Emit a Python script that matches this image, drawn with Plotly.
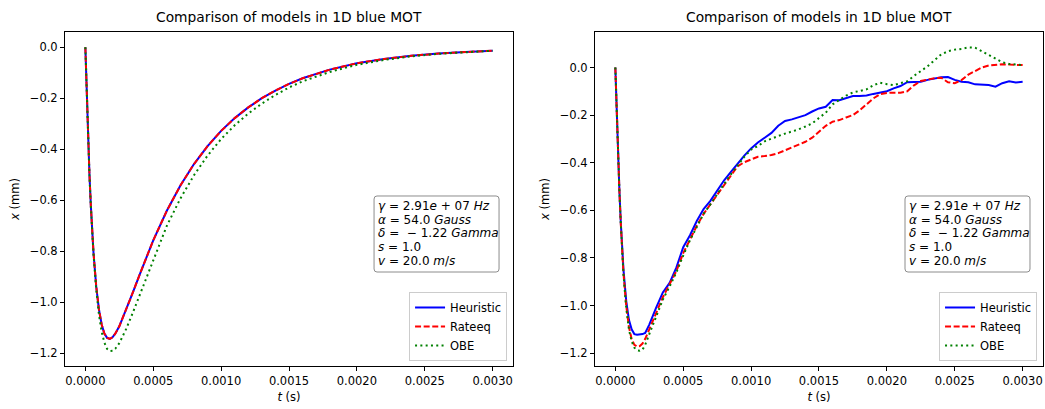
import plotly.graph_objects as go

# ---------------- data ----------------
t_left = [0, 1e-5, 2e-5, 3e-5, 4e-5, 5e-5, 6e-5, 8e-5, 1e-4, 1.2e-4, 1.4e-4, 1.6e-4,
          1.8e-4, 2e-4, 2.2e-4, 2.5e-4, 3e-4, 3.5e-4, 4e-4, 5e-4, 6e-4, 7e-4, 8e-4,
          9e-4, 1.0e-3, 1.1e-3, 1.2e-3, 1.3e-3, 1.4e-3, 1.5e-3, 1.6e-3, 1.8e-3,
          2.0e-3, 2.2e-3, 2.4e-3, 2.6e-3, 2.8e-3, 3.0e-3]
heur_left = [0, -0.192, -0.357, -0.498, -0.618, -0.720, -0.806, -0.938, -1.028, -1.087,
             -1.122, -1.139, -1.143, -1.137, -1.123, -1.094, -1.031, -0.961, -0.891,
             -0.757, -0.641, -0.542, -0.458, -0.388, -0.328, -0.278, -0.236, -0.200,
             -0.170, -0.144, -0.122, -0.088, -0.063, -0.046, -0.034, -0.025, -0.019, -0.014]
rate_left = [0, -0.192, -0.357, -0.498, -0.618, -0.720, -0.806, -0.938, -1.028, -1.087,
             -1.122, -1.139, -1.143, -1.137, -1.123, -1.094, -1.031, -0.961, -0.891,
             -0.757, -0.641, -0.542, -0.458, -0.388, -0.328, -0.278, -0.236, -0.200,
             -0.170, -0.144, -0.122, -0.088, -0.063, -0.046, -0.034, -0.025, -0.019, -0.014]
obe_left = [0, -0.1925, -0.3575, -0.499, -0.620, -0.724, -0.812, -0.950, -1.048, -1.115,
            -1.158, -1.182, -1.191, -1.190, -1.182, -1.160, -1.105, -1.040, -0.972,
            -0.828, -0.700, -0.593, -0.502, -0.425, -0.360, -0.306, -0.260, -0.221,
            -0.187, -0.158, -0.134, -0.097, -0.069, -0.050, -0.036, -0.026, -0.019, -0.014]

t_right = [0, 1e-5, 2e-5, 3e-5, 4e-5, 5e-5, 6e-5, 8e-5, 1e-4, 1.2e-4, 1.4e-4, 1.6e-4,
           1.8e-4, 2e-4, 2.2e-4, 2.5e-4, 3e-4, 3.5e-4, 4e-4, 4.5e-4, 5e-4, 5.5e-4, 6e-4,
           6.5e-4, 7e-4, 7.5e-4, 8e-4, 8.5e-4, 9e-4, 9.5e-4, 1.0e-3, 1.05e-3, 1.1e-3,
           1.15e-3, 1.2e-3, 1.25e-3, 1.3e-3, 1.35e-3, 1.4e-3, 1.45e-3, 1.5e-3, 1.55e-3,
           1.6e-3, 1.65e-3, 1.7e-3, 1.75e-3, 1.8e-3, 1.85e-3, 1.9e-3, 1.95e-3, 2.0e-3,
           2.05e-3, 2.1e-3, 2.15e-3, 2.2e-3, 2.25e-3, 2.3e-3, 2.35e-3, 2.4e-3, 2.45e-3,
           2.5e-3, 2.55e-3, 2.6e-3, 2.65e-3, 2.7e-3, 2.75e-3, 2.8e-3, 2.85e-3, 2.9e-3,
           2.95e-3, 3.0e-3]
heur_right = [0, -0.195, -0.37, -0.52, -0.65, -0.76, -0.85, -0.98, -1.06, -1.10, -1.12,
              -1.123, -1.122, -1.12, -1.115, -1.08, -1.01, -0.945, -0.905, -0.84, -0.755,
              -0.705, -0.645, -0.595, -0.56, -0.515, -0.475, -0.44, -0.405, -0.37, -0.34,
              -0.315, -0.295, -0.275, -0.245, -0.225, -0.218, -0.21, -0.20, -0.185, -0.172,
              -0.165, -0.137, -0.138, -0.13, -0.12, -0.12, -0.118, -0.111, -0.107, -0.10,
              -0.088, -0.078, -0.062, -0.06, -0.06, -0.052, -0.047, -0.041, -0.04, -0.052,
              -0.06, -0.062, -0.071, -0.071, -0.074, -0.081, -0.066, -0.058, -0.063, -0.06]
rate_right = [0, -0.195, -0.37, -0.52, -0.655, -0.77, -0.865, -1.0, -1.09, -1.14, -1.165,
              -1.172, -1.17, -1.16, -1.14, -1.10, -1.035, -0.965, -0.91, -0.855, -0.78,
              -0.72, -0.665, -0.615, -0.575, -0.53, -0.49, -0.45, -0.415, -0.398, -0.385,
              -0.375, -0.372, -0.368, -0.36, -0.348, -0.337, -0.325, -0.312, -0.295, -0.27,
              -0.245, -0.228, -0.221, -0.21, -0.20, -0.18, -0.157, -0.13, -0.112, -0.107,
              -0.106, -0.106, -0.10, -0.075, -0.057, -0.05, -0.045, -0.043, -0.062, -0.066,
              -0.053, -0.03, -0.014, 0.0, 0.008, 0.012, 0.014, 0.012, 0.011, 0.01]
obe_right = [0, -0.195, -0.37, -0.52, -0.655, -0.772, -0.87, -1.01, -1.10, -1.15, -1.177,
             -1.188, -1.19, -1.185, -1.165, -1.12, -1.05, -0.975, -0.92, -0.86, -0.79,
             -0.725, -0.67, -0.615, -0.575, -0.53, -0.49, -0.45, -0.41, -0.375, -0.345,
             -0.33, -0.31, -0.298, -0.288, -0.278, -0.27, -0.26, -0.248, -0.235, -0.212,
             -0.19, -0.155, -0.135, -0.118, -0.105, -0.10, -0.092, -0.075, -0.064, -0.07,
             -0.074, -0.066, -0.058, -0.035, -0.015, 0.005, 0.03, 0.055, 0.068, 0.075,
             0.078, 0.084, 0.083, 0.068, 0.05, 0.035, 0.022, 0.015, 0.012, 0.01]

series_names = ["Heuristic", "Rateeq", "OBE"]
x_ticks = [0.0, 0.0005, 0.0010, 0.0015, 0.0020, 0.0025, 0.0030]
y_ticks = [0.0, -0.2, -0.4, -0.6, -0.8, -1.0, -1.2]
title_text = "Comparison of models in 1D blue MOT"
param_lines = ["<i>γ</i> = 2.91<i>e</i> + 07 <i>Hz</i>",
               "<i>α</i> = 54.0 <i>Gauss</i>",
               "<i>δ</i> =  − 1.22 <i>Gamma</i>",
               "<i>s</i> = 1.0",
               "<i>v</i> = 20.0 <i>m</i>/<i>s</i>"]

# ---------------- styles / layout ----------------
FONT = "DejaVu Sans"
styles = [dict(color="#0000ff", dash="solid"),
          dict(color="#ff0000", dash="6px,2.6px"),
          dict(color="#008000", dash="2px,3.3px")]

fig = go.Figure()

left = [heur_left, rate_left, obe_left]
right = [heur_right, rate_right, obe_right]
for name, y, st in zip(series_names, left, styles):
    fig.add_trace(go.Scatter(x=t_left, y=y, mode="lines", name=name,
                             line=dict(color=st["color"], dash=st["dash"], width=2),
                             xaxis="x", yaxis="y", legend="legend"))
for name, y, st in zip(series_names, right, styles):
    fig.add_trace(go.Scatter(x=t_right, y=y, mode="lines", name=name,
                             line=dict(color=st["color"], dash=st["dash"], width=2),
                             xaxis="x2", yaxis="y2", legend="legend2"))

axis_common = dict(showline=True, mirror=True, linecolor="black", linewidth=1,
                   ticks="outside", ticklen=4, tickwidth=1, tickcolor="black",
                   showgrid=False, zeroline=False,
                   tickfont=dict(family=FONT, size=11.5, color="black"))

xa = dict(axis_common, tickvals=x_ticks, tickformat=".4f", range=[-0.00015, 0.00315],
          title=dict(text="<i>t</i> (s)", font=dict(family=FONT, size=11.5, color="black"),
                     standoff=6))
fig.update_layout(
    width=1045, height=409,
    margin=dict(l=65, r=2, t=32, b=43),
    paper_bgcolor="white", plot_bgcolor="white",
    font=dict(family=FONT, color="black"),
    xaxis=dict(xa, domain=[0, 0.4581], anchor="y"),
    xaxis2=dict(xa, domain=[0.5419, 1.0], anchor="y2"),
    yaxis=dict(axis_common, tickvals=y_ticks, tickformat=".1f", range=[-1.2495, 0.0595],
               anchor="x",
               title=dict(text="<i>x</i> (mm)", font=dict(family=FONT, size=11.5, color="black"),
                          standoff=7)),
    yaxis2=dict(axis_common, tickvals=y_ticks, tickformat=".1f", range=[-1.254, 0.149],
                anchor="x2",
                title=dict(text="<i>x</i> (mm)", font=dict(family=FONT, size=11.5, color="black"),
                           standoff=7)),
    showlegend=True,
)

legend_common = dict(bgcolor="white", bordercolor="#cccccc", borderwidth=1,
                     font=dict(family=FONT, size=11.5, color="black"),
                     xanchor="right", yanchor="bottom", tracegroupgap=0,
                     itemwidth=30)
fig.update_layout(
    legend=dict(legend_common, x=0.452, y=0.015),
    legend2=dict(legend_common, x=0.9939, y=0.015),
)

for xc in (0.4581 / 2, (0.5419 + 1.0) / 2):
    fig.add_annotation(text=title_text, xref="paper", yref="paper", x=xc, y=1.0,
                       xanchor="center", yanchor="bottom", yshift=5, showarrow=False,
                       font=dict(family=FONT, size=13.8, color="black"))


def rounded_box(x0, x1, y0, y1, rx=0.003, ry=0.009):
    return (f"M {x0+rx},{y0} L {x1-rx},{y0} Q {x1},{y0} {x1},{y0+ry} "
            f"L {x1},{y1-ry} Q {x1},{y1} {x1-rx},{y1} L {x0+rx},{y1} "
            f"Q {x0},{y1} {x0},{y1-ry} L {x0},{y0+ry} Q {x0},{y0} {x0+rx},{y0} Z")


line_ys = [0.4799, 0.4386, 0.3973, 0.3560, 0.3147]
for bx0, bx1, tx in ((0.3160, 0.4438, 0.3185), (0.8589, 0.9867, 0.8614)):
    fig.add_shape(type="path", xref="paper", yref="paper",
                  path=rounded_box(bx0, bx1, 0.2814, 0.5090),
                  line=dict(color="#8c8c8c", width=1), fillcolor="white", layer="above")
    for txt, ly in zip(param_lines, line_ys):
        fig.add_annotation(text=txt, xref="paper", yref="paper", x=tx, y=ly,
                           xanchor="left", yanchor="middle", showarrow=False,
                           font=dict(family=FONT, size=12.0, color="black"))

fig.write_html("out.html")
